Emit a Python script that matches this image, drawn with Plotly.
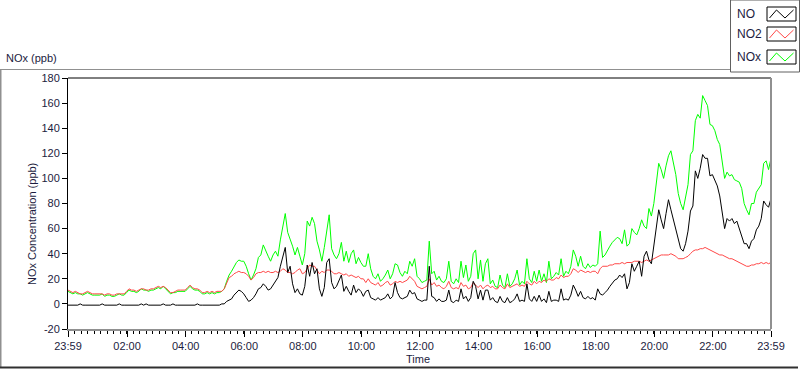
import pandas as pd
import plotly.graph_objects as go

# ---------------- data (5-minute samples, 23:59 -> 23:59) ----------------
START = "2024-01-01 23:59"
STEP = "5min"

NO = [
    -1, -1, -1, -1, -1, 0, -1, -1, -1, -1, -1, -1,
    -1, -1, 0, -1, -1, -1, -1, -1, -1, 0, -1, -1,
    -1, -1, -1, -1, -1, -1, 0, -1, 0, -1, -1, -1,
    -1, -1, -1, 0, -1, -1, -1, 0, -1, -1, -1, -1,
    -1, -1, -1, -1, -1, 0, -1, -1, -1, -1, -1, -1,
    -1, -1, -1, 0, 0, 2, 3, 4, 7, 9, 11, 10,
    8, 5, 2, 3, 5, 8, 12, 13, 16, 14, 11, 12,
    15, 18, 21, 30, 37, 45, 25, 30, 16, 9, 12, 8,
    7, 14, 31, 22, 33, 24, 28, 12, 6, 13, 33, 36,
    17, 12, 14, 18, 23, 10, 14, 10, 7, 15, 9, 12,
    10, 6, 10, 11, 5, 4, 3, 5, 3, 4, 5, 8,
    4, 6, 17, 9, 5, 4, 5, 6, 11, 8, 9, 4,
    3, 2, 3, 3, 30, 6, 5, 2, 4, 2, 2, 3,
    11, 2, 1, 3, 2, 12, 4, 6, 2, 5, 18, 14,
    4, 11, 3, 11, 11, 3, 5, 2, 1, 6, 2, 1,
    5, 1, 2, 4, 8, 2, 3, 2, 16, 4, 2, 6,
    2, 7, 2, 4, 1, 10, 2, 3, 3, 2, 12, 3,
    4, 3, 7, 15, 11, 6, 10, 5, 4, 6, 4, 5,
    3, 12, 8, 7, 9, 11, 14, 17, 19, 20, 23, 21,
    24, 12, 17, 32, 26, 30, 34, 22, 38, 42, 35, 32,
    47, 59, 75, 67, 60, 72, 83, 75, 67, 60, 50, 44,
    42, 48, 58, 74, 78, 106, 100, 108, 119, 116, 116, 102,
    103, 98, 94, 86, 71, 60, 68, 66, 68, 64, 66, 60,
    54, 48, 48, 44, 50, 52, 59, 62, 68, 82, 79, 77,
    84,
]

NO2 = [
    11, 10, 9, 10, 9, 8, 8, 9, 10, 9, 8, 8,
    8, 8, 8, 7, 8, 8, 7, 7, 8, 8, 8, 8,
    10, 12, 11, 11, 10, 11, 12, 12, 11, 11, 12, 12,
    13, 14, 13, 14, 13, 11, 9, 9, 10, 11, 11, 11,
    11, 13, 15, 13, 12, 12, 11, 9, 9, 10, 9, 10,
    9, 10, 10, 10, 12, 17, 21, 22, 24, 25, 26, 25,
    25, 24, 22, 19, 21, 24, 25, 25, 26, 25, 26, 25,
    25, 26, 25, 26, 28, 27, 25, 25, 24, 25, 27, 28,
    24, 25, 28, 31, 30, 30, 27, 24, 26, 25, 27, 27,
    26, 24, 24, 25, 24, 23, 24, 22, 23, 22, 21, 22,
    20, 20, 17, 20, 17, 16, 15, 17, 14, 15, 17, 18,
    15, 16, 18, 17, 18, 17, 18, 19, 22, 20, 18, 14,
    13, 12, 13, 14, 20, 15, 17, 14, 15, 13, 12, 14,
    18, 13, 12, 13, 12, 17, 14, 15, 12, 13, 17, 15,
    13, 15, 12, 14, 15, 13, 14, 12, 12, 15, 13, 12,
    16, 13, 14, 15, 16, 14, 15, 14, 18, 16, 15, 18,
    16, 18, 17, 19, 18, 20, 19, 19, 21, 20, 23, 21,
    22, 22, 24, 28, 27, 25, 27, 26, 25, 26, 25, 26,
    26, 24, 28, 30, 30, 30, 31, 31, 32, 32, 32, 33,
    32, 33, 33, 33, 34, 34, 34, 33, 34, 35, 34, 35,
    36, 37, 38, 39, 39, 39, 39, 40, 39, 38, 36, 36,
    36, 37, 38, 40, 42, 43, 43, 44, 44, 45, 44, 43,
    42, 41, 40, 39, 39, 38, 37, 36, 36, 35, 34, 33,
    32, 31, 30, 30, 31, 31, 32, 32, 33, 32, 33, 32,
    33,
]

NOX = [
    10, 9, 8, 9, 8, 8, 7, 8, 9, 8, 7, 7,
    7, 7, 8, 6, 7, 7, 6, 6, 7, 8, 7, 7,
    9, 11, 10, 10, 9, 10, 12, 11, 11, 10, 11, 11,
    12, 13, 12, 14, 12, 10, 8, 9, 9, 10, 10, 10,
    10, 12, 14, 12, 11, 11, 10, 8, 8, 9, 8, 9,
    8, 9, 9, 10, 12, 18, 23, 26, 30, 33, 35, 34,
    34, 30, 24, 19, 23, 28, 37, 39, 47, 42, 38, 34,
    39, 42, 38, 51, 62, 72, 57, 52, 46, 39, 45, 38,
    31, 40, 66, 62, 69, 64, 50, 43, 34, 45, 60, 71,
    44, 39, 36, 40, 49, 34, 42, 33, 40, 43, 32, 37,
    33, 30, 30, 40, 28, 22, 20, 24, 18, 20, 23, 27,
    20, 24, 32, 31, 25, 22, 26, 24, 34, 30, 36, 22,
    20, 17, 18, 19, 50, 24, 26, 19, 22, 18, 17, 20,
    34, 18, 16, 20, 17, 34, 21, 31, 18, 22, 40, 43,
    20, 35, 18, 32, 36, 16, 19, 14, 13, 23, 15, 13,
    24, 14, 16, 20, 27, 15, 18, 16, 36, 20, 17, 26,
    18, 27, 18, 24, 17, 34, 20, 22, 25, 23, 36, 22,
    26, 24, 30, 43, 38, 30, 38, 30, 28, 32, 29, 31,
    30, 32, 58, 37, 39, 43, 46, 49, 51, 53, 52, 48,
    59, 46, 48, 60, 57, 55, 60, 67, 62, 60, 76, 70,
    80, 95, 112, 107, 100, 110, 118, 122, 112, 103, 88, 80,
    75, 84, 95, 119, 122, 146, 151, 148, 166, 162, 158, 143,
    142, 138, 131, 127, 114, 100, 105, 102, 103, 99, 98, 97,
    92, 80, 75, 71, 80, 80, 89, 92, 95, 112, 114, 107,
    116,
]

SERIES_NAMES = ["NO", "NO2", "NOx"]
X_TICK_TIMES = ["2024-01-01 23:59", "2024-01-02 02:00", "2024-01-02 04:00",
                "2024-01-02 06:00", "2024-01-02 08:00", "2024-01-02 10:00",
                "2024-01-02 12:00", "2024-01-02 14:00", "2024-01-02 16:00",
                "2024-01-02 18:00", "2024-01-02 20:00", "2024-01-02 22:00",
                "2024-01-02 23:59"]
X_TICK_LABELS = ["23:59", "02:00", "04:00", "06:00", "08:00", "10:00", "12:00",
                 "14:00", "16:00", "18:00", "20:00", "22:00", "23:59"]
Y_TICKS = [-20, 0, 20, 40, 60, 80, 100, 120, 140, 160, 180]
Y_TICK_LABELS = ["-20", "0", "20", "40", "60", "80", "100", "120", "140", "160", "180"]

# ---------------- styling ----------------
FONT = "Liberation Sans"
TXT = "#1c1c40"
C_NO, C_NO2, C_NOX = "#000000", "#ff4848", "#00ff00"

W, H = 800, 369
PX0, PX1, PY_TOP, PY_BOT = 68, 771, 78, 329


def px(x):
    return (x - PX0) / (PX1 - PX0)


def py(y):
    return (PY_BOT - y) / (PY_BOT - PY_TOP)


n = min(len(NO), len(NO2), len(NOX))
times = pd.date_range(START, periods=n, freq=STEP)

fig = go.Figure()
fig.add_trace(go.Scatter(x=times, y=NOX[:n], mode="lines", name="NOx",
                         line=dict(color=C_NOX, width=1)))
fig.add_trace(go.Scatter(x=times, y=NO2[:n], mode="lines", name="NO2",
                         line=dict(color=C_NO2, width=1)))
fig.add_trace(go.Scatter(x=times, y=NO[:n], mode="lines", name="NO",
                         line=dict(color=C_NO, width=1)))

shapes = []
# plot frame: top black, right gray
shapes.append(dict(type="line", xref="paper", yref="paper", x0=0, x1=1, y0=1, y1=1,
                   line=dict(color="#000000", width=1)))
shapes.append(dict(type="line", xref="paper", yref="paper", x0=1, x1=1, y0=0, y1=1,
                   line=dict(color="#909090", width=2)))
# outer frame
shapes.append(dict(type="line", xref="paper", yref="paper", x0=px(0.5), x1=px(0.5),
                   y0=py(69), y1=py(368), line=dict(color="#909090", width=2)))
shapes.append(dict(type="line", xref="paper", yref="paper", x0=px(0), x1=px(730),
                   y0=py(69.5), y1=py(69.5), line=dict(color="#909090", width=1)))
shapes.append(dict(type="line", xref="paper", yref="paper", x0=px(0), x1=px(798),
                   y0=py(367.5), y1=py(367.5), line=dict(color="#303030", width=2)))
# legend box
shapes.append(dict(type="rect", xref="paper", yref="paper", x0=px(730.5), x1=px(799.5),
                   y0=py(72), y1=py(0), line=dict(color="#606060", width=1),
                   fillcolor="white", layer="below"))

ann = []
leg_rows = [(SERIES_NAMES[0], C_NO, 7, 21, 14), (SERIES_NAMES[1], C_NO2, 27, 41, 34),
            (SERIES_NAMES[2], C_NOX, 50, 64, 57)]
for name, col, top, bot, cy in leg_rows:
    shapes.append(dict(type="rect", xref="paper", yref="paper", x0=px(767), x1=px(796),
                       y0=py(bot), y1=py(top), line=dict(color="#000000", width=1),
                       fillcolor="white"))
    hi, lo = top + 3, bot - 3
    pts = [(769.5, lo), (776.5, hi), (785, lo), (793.5, hi)]
    path = "M " + " L ".join(f"{px(a):.5f},{py(b):.5f}" for a, b in pts)
    shapes.append(dict(type="path", xref="paper", yref="paper", path=path,
                       line=dict(color=col, width=1)))
    ann.append(dict(text=name, xref="paper", yref="paper", x=px(735), y=py(cy),
                    xanchor="left", yanchor="middle", showarrow=False,
                    font=dict(family=FONT, size=12, color=TXT)))

ann.append(dict(text="NOx (ppb)", xref="paper", yref="paper", x=px(4), y=py(58),
                xanchor="left", yanchor="middle", showarrow=False,
                font=dict(family=FONT, size=11, color=TXT)))
ann.append(dict(text="NOx Concentration (ppb)", xref="paper", yref="paper",
                x=px(32), y=py(224), xanchor="center", yanchor="middle",
                textangle=-90, showarrow=False,
                font=dict(family=FONT, size=11, color=TXT)))
ann.append(dict(text="Time", xref="paper", yref="paper", x=px(418), y=py(359),
                xanchor="center", yanchor="middle", showarrow=False,
                font=dict(family=FONT, size=11, color=TXT)))

fig.update_layout(
    width=W, height=H, autosize=False,
    margin=dict(l=PX0, r=W - PX1, t=PY_TOP, b=H - PY_BOT, pad=0),
    paper_bgcolor="white", plot_bgcolor="white",
    showlegend=False, hovermode=False,
    shapes=shapes, annotations=ann,
    font=dict(family=FONT, size=11, color=TXT),
)
fig.update_xaxes(
    type="date", range=[X_TICK_TIMES[0], X_TICK_TIMES[-1]],
    tickmode="array", tickvals=X_TICK_TIMES, ticktext=X_TICK_LABELS,
    ticks="outside", ticklen=6, tickcolor="#000000", tickwidth=1,
    showline=True, linecolor="#909090", linewidth=2, showgrid=False, zeroline=False,
    tickfont=dict(family=FONT, size=11, color=TXT),
    minor=dict(ticks="outside", ticklen=3, tickcolor="#000000", tickwidth=1,
               tick0=X_TICK_TIMES[0], dtick=800000, showgrid=False),
)
fig.update_yaxes(
    range=[-20, 180], tickmode="array", tickvals=Y_TICKS, ticktext=Y_TICK_LABELS,
    ticks="outside", ticklen=5, tickcolor="#000000", tickwidth=1,
    showline=True, linecolor="#000000", linewidth=1, showgrid=False, zeroline=False,
    tickfont=dict(family=FONT, size=11, color=TXT),
)

fig.write_html(
    "out.html",
    config={"displayModeBar": False, "staticPlot": True},
    post_script="document.body.style.margin='0';document.body.style.padding='0';"
                "document.body.style.overflow='hidden';",
)
